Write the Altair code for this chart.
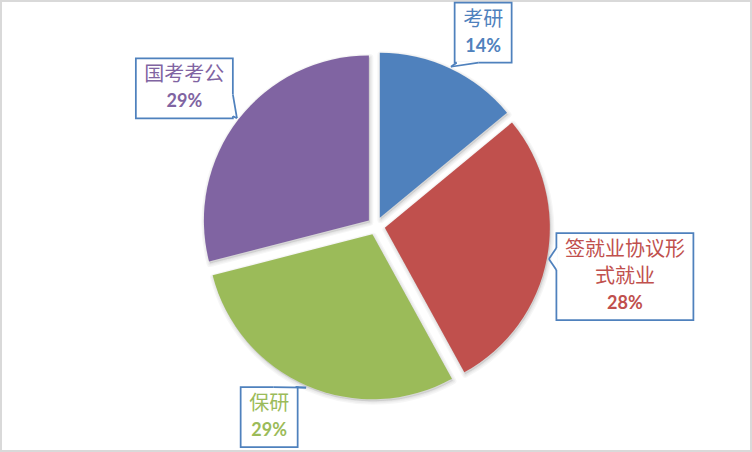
import altair as alt
import pandas as pd

# Graduate destinations, clockwise from 12 o'clock
CATEGORIES = ["考研", "签就业协议形式就业", "保研", "国考考公"]
VALUES = [14, 28, 29, 29]
COLORS = ["#4F81BD", "#C0504D", "#9BBB59", "#8064A2"]

# Callout placement: distance from pie centre and angular nudge (degrees)
LABEL_RADIUS = [221, 254, 219, 236]
LABEL_SHIFT = [3.8, 0.7, 5.8, -2.1]
TAIL_SIDE = ["b", "l", "t", "r"]

W, H = 752, 452
CX, CY = W / 2, H / 2
R = 165
EXPLODE = 9
TIP_R = R + EXPLODE + 2
CALLOUT_BLUE = "#4F81BD"

df = pd.DataFrame({
    "category": CATEGORIES,
    "value": VALUES,
    "idx": list(range(len(CATEGORIES))),
    "lr": LABEL_RADIUS,
    "ls": LABEL_SHIFT,
    "side": TAIL_SIDE,
})

base = (
    alt.Chart(df)
    .transform_joinaggregate(total="sum(value)")
    .transform_window(cum="sum(value)", sort=[alt.SortField("idx")], frame=[None, 0])
    .transform_calculate(mid="2*PI*(datum.cum - datum.value/2)/datum.total")
    .transform_calculate(ux="sin(datum.mid)", uy="-cos(datum.mid)")
    .transform_calculate(
        cx=f"{CX} + {EXPLODE}*datum.ux",
        cy=f"{CY} + {EXPLODE}*datum.uy",
        tipx=f"{CX} + {TIP_R}*datum.ux",
        tipy=f"{CY} + {TIP_R}*datum.uy",
        la="datum.mid + datum.ls*PI/180",
        nl="ceil(length(datum.category)/6)",
        nc="min(length(datum.category), 6)",
        pct="format(datum.value/datum.total, '.0%')",
        name="length(datum.category) > 6 ? substring(datum.category, 0, 6) + '\\n' + substring(datum.category, 6) : datum.category",
    )
    .transform_calculate(
        lx=f"{CX} + datum.lr*sin(datum.la)",
        ly=f"{CY} - datum.lr*cos(datum.la)",
        bw="datum.nc*20 + 17",
        bh="33 + 27*datum.nl",
    )
    .transform_calculate(
        bx1="datum.lx - datum.bw/2",
        bx2="datum.lx + datum.bw/2",
        by1="datum.ly - datum.bh/2",
        by2="datum.ly + datum.bh/2",
    )
    .transform_calculate(
        namey="datum.by1 + 17",
        pcty="datum.by1 + 17 + datum.nl*27",
        horiz="datum.side == 'b' || datum.side == 't'",
    )
    .transform_calculate(
        tax="datum.horiz ? clamp(datum.tipx - 11, datum.bx1 + 2, datum.bx2 - 24) : (datum.side == 'l' ? datum.bx1 : datum.bx2)",
        tay="datum.horiz ? (datum.side == 'b' ? datum.by2 : datum.by1) : clamp(datum.tipy - 11, datum.by1 + 2, datum.by2 - 24)",
    )
    .transform_calculate(
        tbx="datum.horiz ? datum.tax + 22 : datum.tax",
        tby="datum.horiz ? datum.tay : datum.tay + 22",
    )
)

color = alt.Color("category:N", scale=alt.Scale(domain=CATEGORIES, range=COLORS), legend=None)
theta = alt.Theta("value:Q", stack=True)
order = alt.Order("idx:Q")
px = alt.X("cx:Q", scale=None)
py = alt.Y("cy:Q", scale=None)

# soft shadow under each exploded slice
shadows = [
    base.mark_arc(radius=R, fill="#000", fillOpacity=0.03, stroke="#000",
                  strokeOpacity=0.035, strokeWidth=w, strokeJoin="round",
                  xOffset=1, yOffset=2)
    .encode(theta=theta, order=order, x=px, y=py)
    for w in (7, 4.5, 2)
]

slices = base.mark_arc(radius=R).encode(theta=theta, order=order, color=color, x=px, y=py)

boxes = base.mark_rect(fill="white", stroke=CALLOUT_BLUE, strokeWidth=1.75).encode(
    x=alt.X("bx1:Q", scale=None), x2="bx2:Q",
    y=alt.Y("by1:Q", scale=None), y2="by2:Q",
)

tail_gap = base.mark_rule(color="white", strokeWidth=3).encode(
    x=alt.X("tax:Q", scale=None), y=alt.Y("tay:Q", scale=None),
    x2="tbx:Q", y2="tby:Q",
)

tail_a = base.mark_rule(color=CALLOUT_BLUE, strokeWidth=1.75).encode(
    x=alt.X("tax:Q", scale=None), y=alt.Y("tay:Q", scale=None),
    x2="tipx:Q", y2="tipy:Q",
)
tail_b = base.mark_rule(color=CALLOUT_BLUE, strokeWidth=1.75).encode(
    x=alt.X("tbx:Q", scale=None), y=alt.Y("tby:Q", scale=None),
    x2="tipx:Q", y2="tipy:Q",
)

names = base.mark_text(
    font="Noto Sans CJK SC", fontSize=20, lineBreak="\n", lineHeight=27,
    baseline="middle", align="center",
).encode(
    x=alt.X("lx:Q", scale=None), y=alt.Y("namey:Q", scale=None),
    text="name:N", color=color,
)

pcts = base.mark_text(
    font="Lato", fontSize=18, fontWeight="bold", baseline="middle", align="center",
).encode(
    x=alt.X("lx:Q", scale=None), y=alt.Y("pcty:Q", scale=None),
    text="pct:N", color=color,
)

chart = (
    alt.layer(*shadows, slices, boxes, tail_gap, tail_a, tail_b, names, pcts)
    .properties(width=W, height=H, padding=0, autosize=alt.AutoSizeParams(type="none"),
                background="white")
    .configure_view(stroke="#d9d9d9", strokeWidth=4)
)

chart.save("out.html", embed_options={"renderer": "svg", "actions": False})
